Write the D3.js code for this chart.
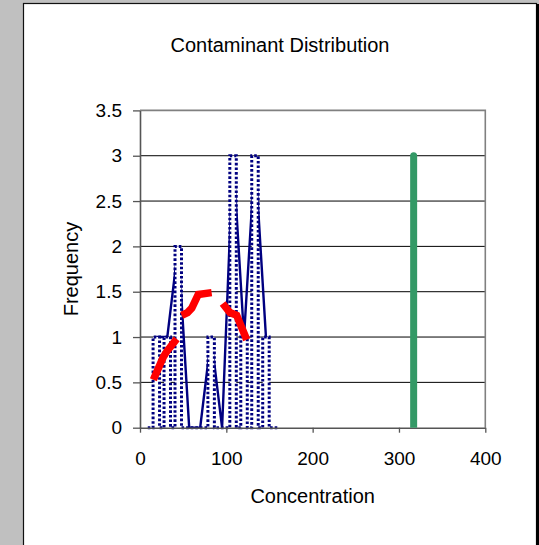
<!DOCTYPE html>
<html><head><meta charset="utf-8">
<script src="https://cdn.jsdelivr.net/npm/d3@7"></script>
<style>html,body{margin:0;padding:0;background:#c0c0c0;overflow:hidden}</style>
</head><body><svg id="c" width="539" height="545"></svg>
<script>
// ---- data ----
const titleText = "Contaminant Distribution";
const xLabelText = "Concentration";
const yLabelText = "Frequency";
const xTickValues = [0, 100, 200, 300, 400];
const yTickValues = [0, 0.5, 1, 1.5, 2, 2.5, 3, 3.5];
const binCenters = [18.9, 31.6, 44.3, 57.0, 69.7, 82.4, 95.1, 107.8, 120.5, 133.2, 145.9];
const frequencies = [1, 1, 2, 0, 0, 1, 0, 3, 1, 3, 1];
const barWidthUnits = 7.5;
const histogramSpan = [9, 160];
const fitSegment1 = [[15.5, 0.53], [27, 0.78], [31, 0.84], [42.5, 0.98]];
const fitSegment2 = [[48.3, 1.24], [55, 1.27], [60, 1.32], [67.5, 1.47], [83, 1.49]];
const fitSegment3 = [[95.8, 1.37], [104.2, 1.27], [112, 1.24], [123.6, 0.97]];
const limitX = [317, 317];
const limitY = [0, 3];

// ---- drawing ----
const svg = d3.select("#c");
const font = "'Liberation Sans', Arial, sans-serif";
const W = 539, H = 545;

svg.append("rect").attr("x", 0).attr("y", 0).attr("width", W).attr("height", H).attr("fill", "#c0c0c0");
svg.append("rect").attr("x", 23.5).attr("y", 3.5).attr("width", 513).attr("height", 560)
  .attr("fill", "#fff").attr("stroke", "#111").attr("stroke-width", 1.2);
svg.append("rect").attr("x", 536).attr("y", 4).attr("width", 3).attr("height", H).attr("fill", "#000");

const x = d3.scaleLinear().domain([0, 400]).range([140, 485.3]);
const y = d3.scaleLinear().domain([0, 3.5]).range([427.7, 110.4]);

// gridlines
svg.append("g").selectAll("line").data(yTickValues.filter(v => v > 0 && v < 3.5)).join("line")
  .attr("x1", x(0)).attr("x2", x(400)).attr("y1", d => y(d)).attr("y2", d => y(d))
  .attr("stroke", "#000").attr("stroke-width", 1);
// plot border top/right
svg.append("path").attr("d", `M${x(0)},${y(3.5)}H${x(400)}V${y(0)}`)
  .attr("fill", "none").attr("stroke", "#808080").attr("stroke-width", 1.6);

// frequency polygon
const pts = binCenters.map((c, i) => [c, frequencies[i]]);
const line = d3.line().x(d => x(d[0])).y(d => y(d[1]));
svg.append("path").attr("d", line(pts)).attr("fill", "none")
  .attr("stroke", "#000080").attr("stroke-width", 2.4).attr("stroke-linejoin", "miter");

// histogram bars (white filled, dotted outline)
const bars = binCenters.map((c, i) => ({ c, f: frequencies[i] })).filter(d => d.f > 0);
svg.append("g").selectAll("rect").data(bars).join("rect")
  .attr("x", d => x(d.c - barWidthUnits / 2)).attr("width", d => x(d.c + barWidthUnits / 2) - x(d.c - barWidthUnits / 2))
  .attr("y", d => y(d.f)).attr("height", d => y(0) - y(d.f)).attr("fill", "#fff");
let outline = [[histogramSpan[0], 0]];
binCenters.forEach((c, i) => {
  const f = frequencies[i];
  if (f > 0) {
    outline.push([c - barWidthUnits / 2, 0], [c - barWidthUnits / 2, f], [c + barWidthUnits / 2, f], [c + barWidthUnits / 2, 0]);
  }
});
outline.push([histogramSpan[1], 0]);
svg.append("path").attr("d", line(outline)).attr("fill", "none")
  .attr("stroke", "#000080").attr("stroke-width", 3).attr("stroke-dasharray", "2.6,2");

// axes
const yAxis = d3.axisLeft(y).tickValues(yTickValues).tickSize(7).tickSizeOuter(0).tickPadding(11)
  .tickFormat(d3.format("~g"));
const gy = svg.append("g").attr("transform", `translate(${x(0)},0)`).call(yAxis);
const xAxis = d3.axisBottom(x).tickValues(xTickValues).tickSize(5).tickSizeOuter(0).tickPadding(19);
const gx = svg.append("g").attr("transform", `translate(0,${y(0)})`).call(xAxis);
[gx, gy].forEach(g => {
  g.select(".domain").attr("stroke", "#555").attr("stroke-width", 1.6);
  g.selectAll(".tick line").attr("stroke", "#555").attr("stroke-width", 1.3);
  g.selectAll("text").attr("font-family", font).attr("font-size", 19).attr("fill", "#000");
});

// fitted curve (red, broken)
[fitSegment1, fitSegment2, fitSegment3].forEach(seg => {
  svg.append("path").attr("d", line(seg)).attr("fill", "none")
    .attr("stroke", "#ff0000").attr("stroke-width", 7.5).attr("stroke-linejoin", "miter");
});

// limit line (green)
svg.append("defs").append("clipPath").attr("id", "pc").append("rect")
  .attr("x", x(0)).attr("y", 0).attr("width", x(400) - x(0)).attr("height", y(0));
svg.append("path").attr("clip-path", "url(#pc)")
  .attr("d", line(limitX.map((v, i) => [v, limitY[i]])))
  .attr("stroke", "#339966").attr("stroke-width", 7).attr("stroke-linecap", "round");

// titles
svg.append("text").attr("x", 280).attr("y", 52).attr("text-anchor", "middle")
  .attr("font-family", font).attr("font-size", 20).text(titleText);
svg.append("text").attr("x", (x(0) + x(400)) / 2).attr("y", 503).attr("text-anchor", "middle")
  .attr("font-family", font).attr("font-size", 20).text(xLabelText);
svg.append("text").attr("transform", `translate(78,${(y(0) + y(3.5)) / 2}) rotate(-90)`)
  .attr("text-anchor", "middle").attr("font-family", font).attr("font-size", 20).text(yLabelText);
</script></body></html>
